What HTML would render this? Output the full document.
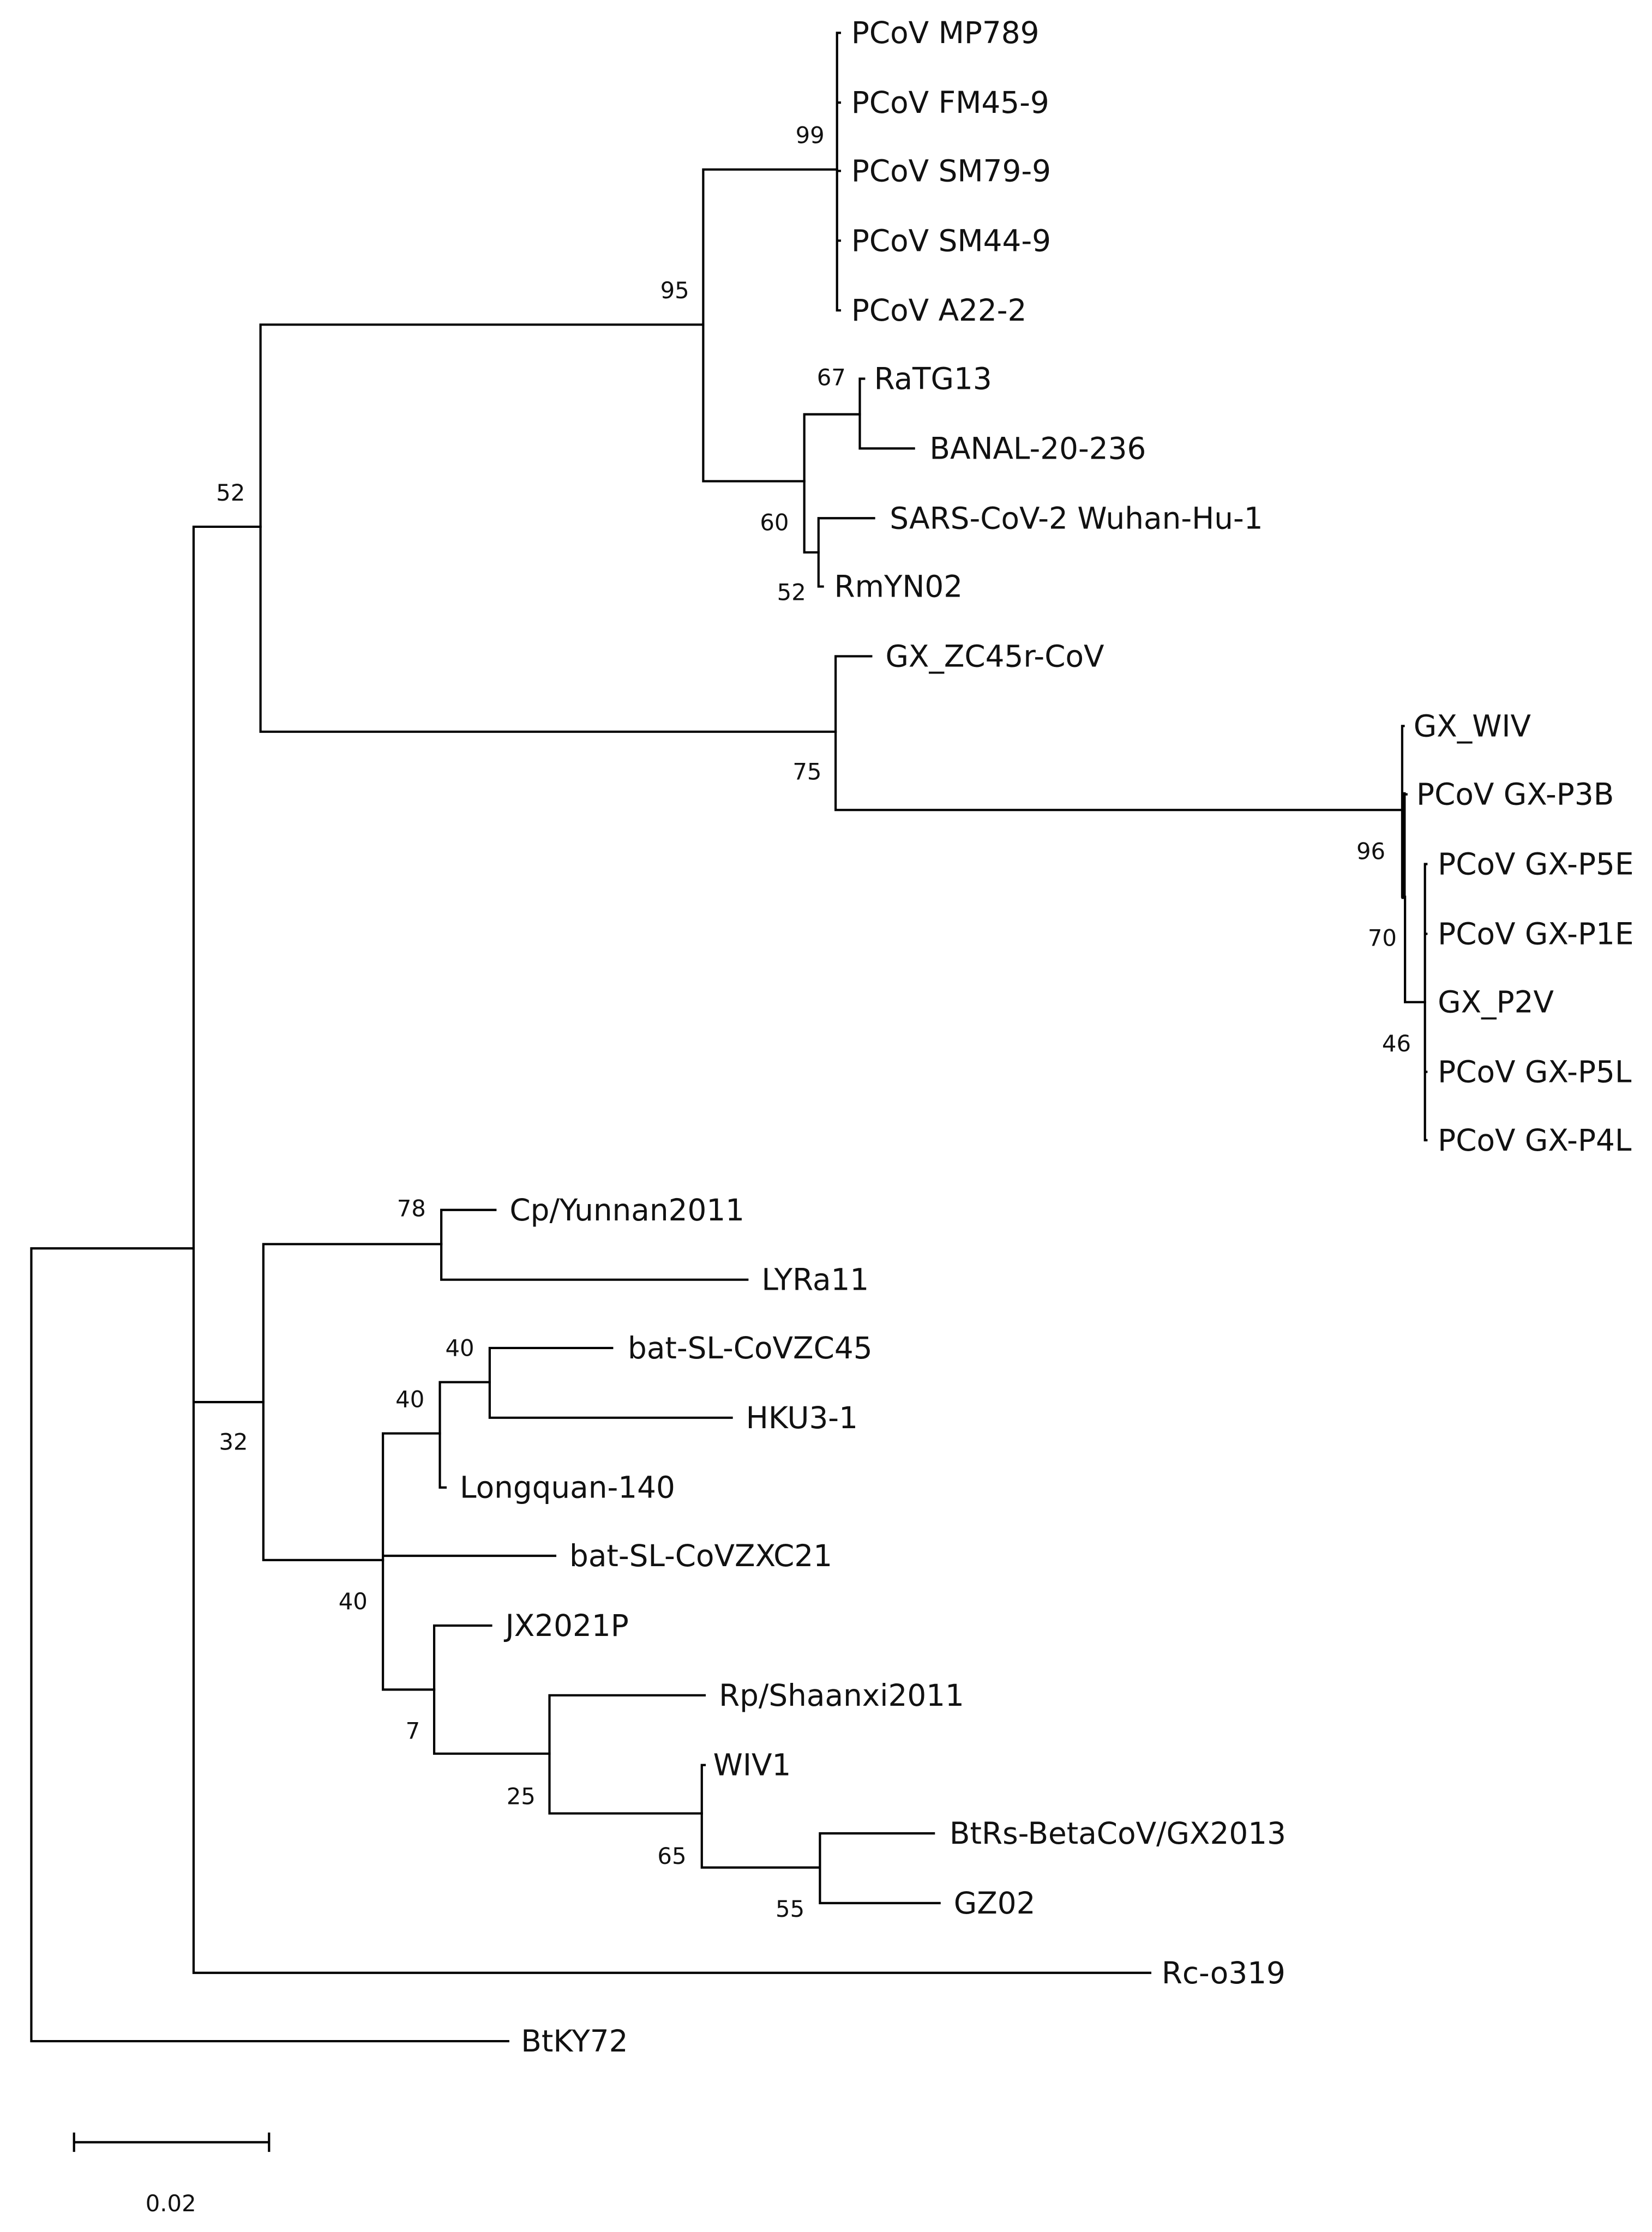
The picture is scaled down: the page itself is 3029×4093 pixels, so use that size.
<!DOCTYPE html>
<html><head><meta charset="utf-8"><style>
html,body{margin:0;padding:0;background:#fff;}
svg{display:block;}
text{font-family:"DejaVu Sans","Liberation Sans",sans-serif;fill:#111;}
.t{font-size:21px;}
.b{font-size:16px;fill:#333;}
</style></head><body>
<svg width="3029" height="4093" viewBox="0 0 1160.5 1568" xmlns="http://www.w3.org/2000/svg">
<g stroke="#000" stroke-width="1.6" fill="none" stroke-linecap="square">
<!-- root -->
<path d="M22 877V1434M22 1434H357M22 877H136"/>
<!-- A -->
<path d="M136 370V1386M136 370H183M136 985H185M136 1386H808"/>
<!-- B -->
<path d="M183 228V514M183 228H494M183 514H587"/>
<!-- D -->
<path d="M494 119V338M494 119H588M494 338H565"/>
<!-- F -->
<path d="M588 23V218M588 23H590M588 72H590M588 120H590M588 169H590M588 218H590"/>
<!-- G -->
<path d="M565 291V388M565 291H604M565 388H575"/>
<path d="M604 266V315M604 266H607M604 315H642"/>
<path d="M575 364V412M575 364H614M575 412H578"/>
<!-- E -->
<path d="M587 461V569M587 461H612M587 569H985"/>
<!-- J -->
<path d="M985 510V630M985 510H986M985 558H988"/>
<path d="M986 558V630" stroke-width="3"/>
<path d="M987 630V704M987 704H1001"/>
<path d="M1001 607V801M1001 607H1002M1001 656H1002M1001 753H1002M1001 801H1002"/>
<!-- C -->
<path d="M185 874V1096M185 874H310M185 1096H269"/>
<path d="M310 850V899M310 850H348M310 899H525"/>
<path d="M269 1007V1187M269 1007H309M269 1093H390M269 1187H305"/>
<path d="M309 971V1045M309 971H344M309 1045H313"/>
<path d="M344 947V996M344 947H430M344 996H514"/>
<path d="M305 1142V1232M305 1142H345M305 1232H386"/>
<path d="M386 1191V1274M386 1191H495M386 1274H493"/>
<path d="M493 1240V1312M493 1240H495M493 1312H576"/>
<path d="M576 1288V1337M576 1288H656M576 1337H660"/>
<!-- scale -->
<path d="M52 1505H189M52 1499V1511M189 1499V1511"/>
</g>
<g class="t" dominant-baseline="central">
<text x="598" y="23">PCoV MP789</text>
<text x="598" y="72">PCoV FM45-9</text>
<text x="598" y="120">PCoV SM79-9</text>
<text x="598" y="169">PCoV SM44-9</text>
<text x="598" y="218">PCoV A22-2</text>
<text x="614" y="266">RaTG13</text>
<text x="653" y="315">BANAL-20-236</text>
<text x="625" y="364">SARS-CoV-2 Wuhan-Hu-1</text>
<text x="586" y="412">RmYN02</text>
<text x="622" y="461">GX_ZC45r-CoV</text>
<text x="993" y="510">GX_WIV</text>
<text x="995" y="558">PCoV GX-P3B</text>
<text x="1010" y="607">PCoV GX-P5E</text>
<text x="1010" y="656">PCoV GX-P1E</text>
<text x="1010" y="704">GX_P2V</text>
<text x="1010" y="753">PCoV GX-P5L</text>
<text x="1010" y="801">PCoV GX-P4L</text>
<text x="358" y="850">Cp/Yunnan2011</text>
<text x="535" y="899">LYRa11</text>
<text x="441" y="947">bat-SL-CoVZC45</text>
<text x="524" y="996">HKU3-1</text>
<text x="323" y="1045">Longquan-140</text>
<text x="400" y="1093">bat-SL-CoVZXC21</text>
<text x="355" y="1142">JX2021P</text>
<text x="505" y="1191">Rp/Shaanxi2011</text>
<text x="501" y="1240">WIV1</text>
<text x="667" y="1288">BtRs-BetaCoV/GX2013</text>
<text x="670" y="1337">GZ02</text>
<text x="816" y="1386">Rc-o319</text>
<text x="366" y="1434">BtKY72</text>
</g>
<g class="b" dominant-baseline="central" text-anchor="middle">
<text x="569" y="95">99</text>
<text x="474" y="204">95</text>
<text x="162" y="346">52</text>
<text x="584" y="265">67</text>
<text x="544" y="367">60</text>
<text x="556" y="416">52</text>
<text x="567" y="542">75</text>
<text x="963" y="598">96</text>
<text x="971" y="659">70</text>
<text x="981" y="733">46</text>
<text x="289" y="849">78</text>
<text x="323" y="947">40</text>
<text x="288" y="983">40</text>
<text x="164" y="1013">32</text>
<text x="248" y="1125">40</text>
<text x="290" y="1216">7</text>
<text x="366" y="1262">25</text>
<text x="472" y="1304">65</text>
<text x="555" y="1341">55</text>
<text x="120" y="1548">0.02</text>
</g>
</svg>
</body></html>
